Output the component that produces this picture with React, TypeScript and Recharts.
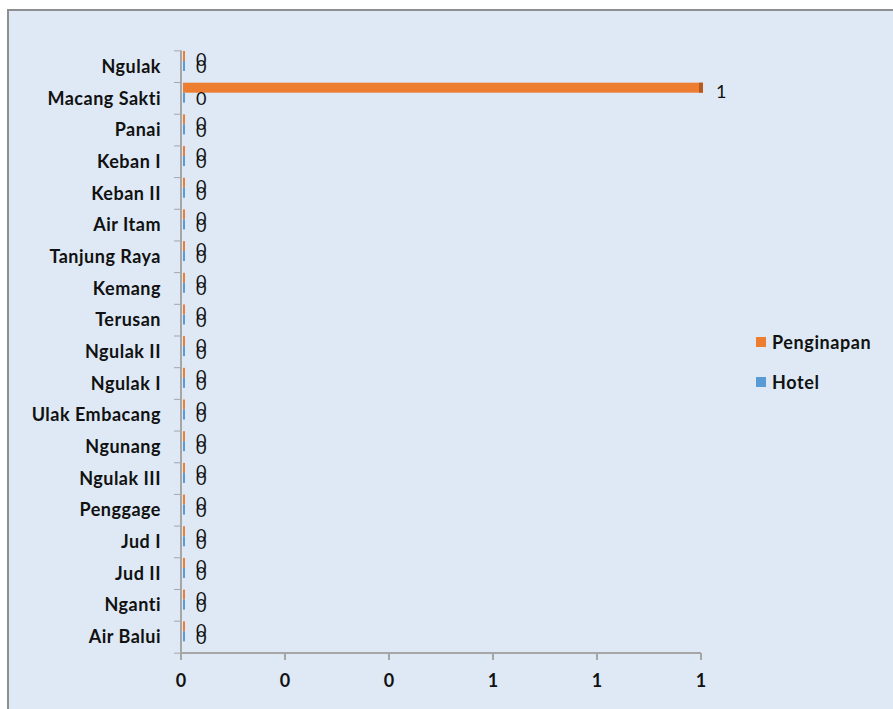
import React from "react";
import { BarChart, Bar, XAxis, YAxis, Legend, LabelList } from "recharts";

const categories = [
  "Ngulak",
  "Macang Sakti",
  "Panai",
  "Keban I",
  "Keban II",
  "Air Itam",
  "Tanjung Raya",
  "Kemang",
  "Terusan",
  "Ngulak II",
  "Ngulak I",
  "Ulak Embacang",
  "Ngunang",
  "Ngulak III",
  "Penggage",
  "Jud I",
  "Jud II",
  "Nganti",
  "Air Balui",
];
const seriesNames = ["Penginapan", "Hotel"];
const penginapan = [0, 1, 0, 0, 0, 0, 0, 0, 0, 0, 0, 0, 0, 0, 0, 0, 0, 0, 0];
const hotel = [0, 0, 0, 0, 0, 0, 0, 0, 0, 0, 0, 0, 0, 0, 0, 0, 0, 0, 0];
const xTicks = [0, 0.2, 0.4, 0.6, 0.8, 1];

const ORANGE = "#ED7D31";
const BLUE = "#5B9BD5";
const FONT = "Lato, 'Open Sans', sans-serif";

const data = categories.map((name, i) => ({
  name,
  Penginapan: penginapan[i],
  Hotel: hotel[i],
}));

// bar with a small 3d look: lifted a bit and a darker end face
const Bar3D = (props: any) => {
  const { x, y, width, height, fill } = props;
  const w = Math.max(width || 0, 2);
  const yy = y - 6;
  const dark = fill === ORANGE ? "#B85A1C" : "#3E77AB";
  return (
    <g>
      <rect x={x + 2} y={yy} width={w} height={height} fill={fill} />
      {width > 4 && (
        <rect x={x + width - 2} y={yy} width={4} height={height} fill={dark} />
      )}
    </g>
  );
};

const CatTick = (props: any) => {
  const { x, y, payload, index } = props;
  return (
    <g>
      <text
        x={x}
        y={y}
        dy={6}
        textAnchor="end"
        fill="#111"
        fontFamily={FONT}
        fontWeight={700}
        fontSize={18}
        letterSpacing={0.5}
      >
        {payload.value}
      </text>
      <line x1={x + 13} x2={x + 21} y1={y - 16} y2={y - 16} stroke="#A6A6A6" />
      {index === categories.length - 1 && (
        <line x1={x + 13} x2={x + 21} y1={y + 16} y2={y + 16} stroke="#A6A6A6" />
      )}
    </g>
  );
};

const renderLegend = (props: any) => {
  const items = [...(props.payload || [])].sort(
    (a: any, b: any) => seriesNames.indexOf(a.value) - seriesNames.indexOf(b.value)
  );
  return (
    <div style={{ display: "flex", flexDirection: "column", gap: 18 }}>
      {items.map((it: any) => (
        <div key={it.value} style={{ display: "flex", alignItems: "center" }}>
          <span
            style={{
              display: "inline-block",
              width: 10,
              height: 10,
              background: it.color,
              marginRight: 6,
            }}
          />
          <span
            style={{
              fontFamily: FONT,
              fontWeight: 700,
              fontSize: 18,
              letterSpacing: 0.6,
              color: "#111",
              lineHeight: "22px",
            }}
          >
            {it.value}
          </span>
        </div>
      ))}
    </div>
  );
};

export default function App() {
  return (
    <div
      style={{
        position: "fixed",
        left: 0,
        top: 0,
        width: 893,
        height: 709,
        overflow: "hidden",
        background: "#fff",
      }}
    >
      <div
        style={{
          position: "absolute",
          left: 7,
          top: 9,
          width: 900,
          height: 710,
          background: "#DEE9F5",
          borderLeft: "2px solid #8F8F8F",
          borderTop: "2px solid #8F8F8F",
        }}
      >
        <BarChart
          width={880}
          height={698}
          data={data}
          layout="vertical"
          margin={{ top: 40, right: 188, left: 0, bottom: 26 }}
          barSize={10}
          barGap={0}
        >
          <XAxis
            type="number"
            domain={[0, 1]}
            ticks={xTicks}
            tickFormatter={(v: number) => String(Math.round(v))}
            axisLine={{ stroke: "#A6A6A6", strokeWidth: 2 }}
            tickLine={{ stroke: "#A6A6A6", strokeWidth: 2 }}
            tickSize={7}
            tickMargin={14}
            height={30}
            tick={{ fill: "#111", fontFamily: FONT, fontWeight: 700, fontSize: 18 }}
          />
          <YAxis
            type="category"
            dataKey="name"
            width={172}
            axisLine={{ stroke: "#A6A6A6", strokeWidth: 2 }}
            tickLine={false}
            tickSize={6}
            tickMargin={14}
            interval={0}
            tick={<CatTick />}
          />
          <Legend
            layout="vertical"
            align="center"
            verticalAlign="middle"
            content={renderLegend}
            wrapperStyle={{ left: 747, top: 320, width: 140 }}
          />
          <Bar
            dataKey="Penginapan"
            fill={ORANGE}
            shape={<Bar3D />}
            isAnimationActive={false}
          >
            <LabelList
              dataKey="Penginapan"
              position="right"
              offset={15}
              dy={-2}
              fill="#111"
              fontFamily={FONT}
              fontSize={18}
            />
          </Bar>
          <Bar dataKey="Hotel" fill={BLUE} shape={<Bar3D />} isAnimationActive={false}>
            <LabelList
              dataKey="Hotel"
              position="right"
              offset={15}
              dy={-5}
              fill="#111"
              fontFamily={FONT}
              fontSize={18}
            />
          </Bar>
        </BarChart>
      </div>
    </div>
  );
}
